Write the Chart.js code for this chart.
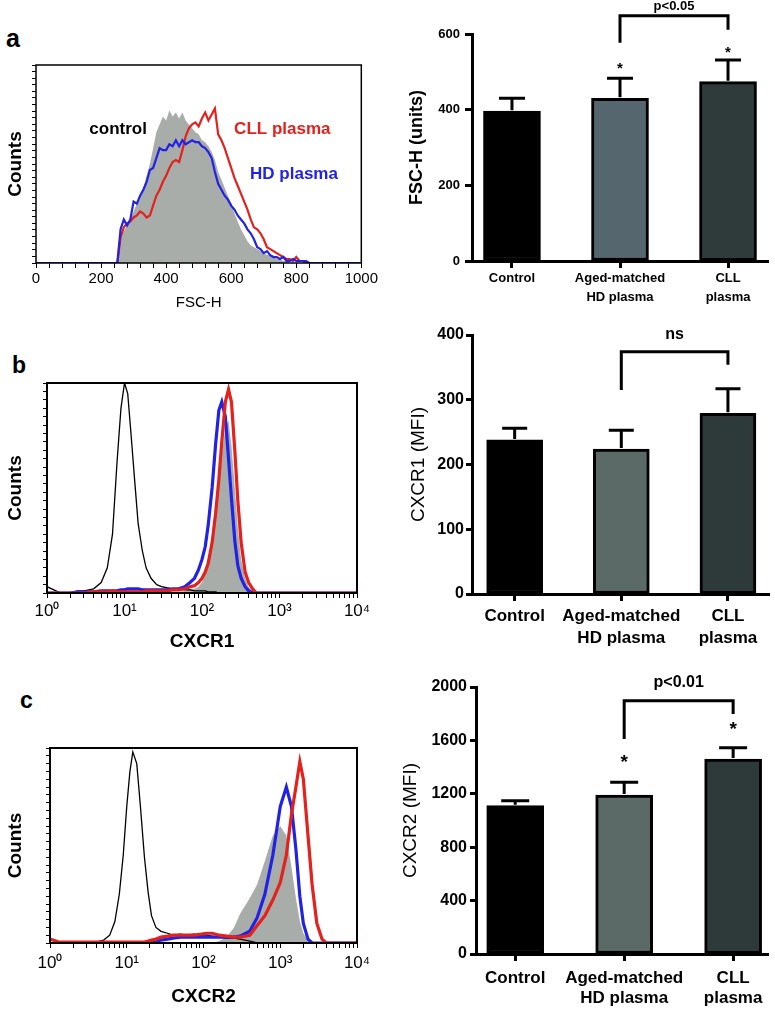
<!DOCTYPE html>
<html>
<head>
<meta charset="utf-8">
<title>FSC-H, CXCR1 and CXCR2</title>
<script src="https://cdn.jsdelivr.net/npm/chart.js@4.4.1/dist/chart.umd.min.js"></script>
<style>
  body { margin: 0; background: #fff; width: 775px; height: 1010px; position: relative; overflow: hidden;
         font-family: "Liberation Sans", Arial, Helvetica, sans-serif; }
  canvas { position: absolute; }
  .tag { position: absolute; font-weight: bold; line-height: 1; color: #000; }
</style>
</head>
<body>
<div class="tag" style="left:6px;top:26px;font-size:25px">a</div>
<div class="tag" style="left:12px;top:354px;font-size:23px">b</div>
<div class="tag" style="left:20px;top:689px;font-size:23px">c</div>

<canvas id="fsc-hist" width="380" height="280" style="left:0;top:40px"></canvas>
<canvas id="fsc-bar" width="380" height="320" style="left:395px;top:0"></canvas>
<canvas id="cxcr1-hist" width="380" height="325" style="left:0;top:330px"></canvas>
<canvas id="cxcr1-bar" width="380" height="330" style="left:395px;top:320px"></canvas>
<canvas id="cxcr2-hist" width="380" height="320" style="left:0;top:690px"></canvas>
<canvas id="cxcr2-bar" width="380" height="350" style="left:395px;top:660px"></canvas>

<script>
// ─── Data ────────────────────────────────────────────────────────────────────

// panel a, histogram (FSC-H, linear axis), counts scaled to 0-100
const fscBins = [0,
  250, 260, 270, 280, 290, 300, 310, 320, 330, 340,
  350, 360, 370, 380, 390, 400, 410, 420, 430, 440,
  450, 460, 470, 480, 490, 500, 510, 520, 530, 540,
  550, 560, 570, 580, 590, 600, 610, 620, 630, 640,
  650, 660, 670, 680, 690, 700, 710, 720, 730, 740,
  750, 760, 770, 780, 790, 800, 810, 820, 830, 840,
  1000];
const fscControl = [0,
  0, 14, 16, 19, 22, 26, 30, 34, 38, 44,
  50, 58, 66, 70, 74, 72, 77, 74, 76, 73,
  76, 72, 70, 68, 66, 65, 62, 61, 59, 56,
  52, 46, 42, 38, 34, 30, 25, 21, 17, 14,
  11, 9, 8, 7, 6, 5, 4, 4, 3, 2,
  2, 1, 1, 0, 0, 0, 0, 0, 0, 0,
  0];
const fscHdPlasma = [0,
  0, 17, 22, 19, 22, 31, 30, 34, 37, 41,
  47, 48, 53, 58, 57, 57, 60, 59, 62, 59,
  62, 60, 61, 62, 61, 61, 59, 58, 56, 53,
  46, 40, 37, 34, 32, 29, 27, 24, 22, 20,
  17, 15, 12, 8, 7, 5, 6, 4, 3, 3,
  2, 3, 1, 1, 2, 1, 1, 1, 1, 0,
  0];
const fscCllPlasma = [null,
  0, 13, 18, 20, 21, 23, 24, 26, 25, 23,
  24, 29, 34, 37, 41, 44, 48, 51, 52, 51,
  57, 64, 68, 70, 71, 69, 73, 76, 72, 75,
  78, 65, 62, 58, 53, 48, 43, 39, 35, 31,
  27, 22, 18, 17, 15, 12, 8, 7, 6, 5,
  4, 3, 2, 2, 1, 3, 1, 1, 0, 0,
  null];

// panel b, histogram (CXCR1, log axis)
const cxcr1Bins = [1, 1.5, 2, 2.5, 3, 4, 5, 6, 7, 8, 9,
  10, 11, 12, 13.5, 15, 17, 19, 22, 26, 30, 35, 42, 50,
  60, 70, 80, 90, 100, 110, 120, 135, 150, 165, 180,
  200, 220, 240, 265, 290, 320, 360, 400, 450, 500, 700, 1000, 10000];
const cxcr1Unstained = [3, 0, 0, 1, 1, 2, 5, 12, 28, 62, 88,
  100, 95, 78, 54, 33, 20, 12, 7, 4, 3, 2.5, 2, 2,
  1.5, 1.5, 1, 1, 1, 1, 0.5, 0.5, 0.5, 0, 0,
  0, 0, 0, 0, 0, 0, 0, 0, 0, 0, 0, 0, 0];
const cxcr1Control = [0, 0, 0, 0, 0, 0, 0, 0, 0, 0, 0,
  0, 0, 0, 0, 0, 0, 0, 0, 0, 0, 0, 0, 0.5,
  1, 2, 2, 3, 5, 9, 14, 24, 36, 50, 66,
  79, 82, 70, 50, 31, 16, 7, 3, 1, 0, 0, 0, 0];
const cxcr1HdPlasma = [0, 0, 0, 0.5, 0.5, 0.5, 1, 1, 1, 1, 1.5,
  1.5, 2, 2, 2, 2, 1.5, 1.5, 1.5, 1.5, 1.5, 1.5, 2, 2,
  3, 5, 7, 11, 16, 22, 32, 50, 71, 87, 91,
  84, 64, 45, 25, 13, 7, 3, 1, 0, 0, 0, 0, 0];
const cxcr1CllPlasma = [0, 0, 0, 0, 0, 0.5, 0.5, 0.5, 1, 0.5, 0.5,
  0.5, 0.5, 0.5, 0.5, 0.5, 0.5, 1, 1, 1, 1, 1, 1.5, 1.5,
  2, 3, 3.5, 5, 7, 10, 14, 24, 38, 54, 72,
  91, 97, 91, 68, 44, 24, 10, 5, 2, 0, 0, 0, 0];

// panel c, histogram (CXCR2, log axis)
const cxcr2Bins = [1, 1.3, 1.6, 2, 2.5, 3, 4, 5, 6, 7, 8, 9,
  10, 11, 12, 13.5, 15, 17, 19, 21, 24, 28, 34, 40,
  50, 60, 75, 90, 110, 130, 160, 200, 250, 300, 400, 500,
  630, 800, 1000, 1200, 1400, 1600, 1800, 2000, 2300, 2600, 3000, 3500,
  4000, 4500, 10000];
const cxcr2Unstained = [0, 0, 0, 0, 0.5, 0.5, 0.5, 1.5, 4, 11, 25, 45,
  70, 88, 98, 92, 71, 44, 26, 14, 8, 6, 5, 4,
  4.5, 4, 4.5, 4, 4, 3.5, 3, 2.5, 2.5, 2, 1, 0,
  0, 0, 0, 0, 0, 0, 0, 0, 0, 0, 0, 0,
  0, 0, 0];
const cxcr2Control = [0, 0, 0, 0, 0, 0, 0, 0, 0, 0, 0, 0,
  0, 0, 0, 0, 0, 0, 0, 0, 0, 0, 0, 0,
  0, 0, 0, 0, 0, 0, 1, 3, 8, 15, 23, 30,
  42, 55, 60, 55, 39, 23, 11, 5, 1, 0, 0, 0,
  0, 0, 0];
const cxcr2HdPlasma = [null, null, null, null, null, null, null, null, null, null, null, null,
  null, null, null, null, null, null, 0, 0.5, 1, 1.5, 2, 2.5,
  3, 3, 3, 3, 3, 3, 3, 3, 3, 3.5, 6, 13,
  25, 45, 70, 80, 70, 48, 24, 10, 2, 0, 0, 0,
  0, 0, 0];
const cxcr2CllPlasma = [2, 0.5, 0.5, 0.5, 0.5, 0.5, 0.5, 0.5, 0.5, 0.5, 0.5, 0.5,
  0.5, 0.5, 0.5, 0.5, 0.5, 0.5, 1, 1.5, 2, 3, 3.5, 4,
  4, 4, 4, 4.5, 5, 5, 4, 3.5, 3, 3, 4, 9,
  14, 22, 31, 45, 66, 80, 93, 84, 55, 30, 10, 2,
  0, 0, 0];

const decadeLabels = ["10\u2070", "10\u00b9", "10\u00b2", "10\u00b3", "10\u2074"];

// bar panels: group means and upper error (SEM)
const groupLabels = [["Control"], ["Aged-matched", "HD plasma"], ["CLL", "plasma"]];
const fscMeans = [396, 430, 474];
const fscErrors = [34, 53, 57];
const cxcr1Means = [238, 224, 279];
const cxcr1Errors = [18, 29, 38];
const cxcr2Means = [1111, 1191, 1461];
const cxcr2Errors = [37, 95, 84];

// ─── Look ────────────────────────────────────────────────────────────────────

const SANS = '"Liberation Sans", Arial, Helvetica, sans-serif';
const RED = "#e3211d";
const BLUE = "#2222e4";
const GREY = "#a8adaa";

Chart.defaults.font.family = SANS;
Chart.defaults.color = "#000";
Chart.defaults.animation = false;
Chart.defaults.responsive = false;
Chart.defaults.plugins.legend.display = false;
Chart.defaults.plugins.tooltip.enabled = false;

// box round the histogram plot + free text labels in data units
const histFrame = {
  id: "histFrame",
  afterDraw(chart, args, opts) {
    const { ctx, chartArea: a, scales } = chart;
    ctx.save();
    ctx.strokeStyle = "#000";
    ctx.lineWidth = opts.lineWidth || 1.5;
    ctx.strokeRect(a.left, a.top, a.right - a.left, a.bottom - a.top);
    (opts.notes || []).forEach((n) => {
      ctx.font = `bold ${n.size}px ${SANS}`;
      ctx.fillStyle = n.color;
      ctx.textAlign = "left";
      ctx.textBaseline = "middle";
      ctx.fillText(n.text, scales.x.getPixelForValue(n.x), scales.y.getPixelForValue(n.y));
    });
    ctx.restore();
  },
};

// error bars, asterisks and the comparison bracket
const barExtras = {
  id: "barExtras",
  afterDatasetsDraw(chart, args, o) {
    const { ctx, scales: { x, y } } = chart;
    ctx.save();
    ctx.strokeStyle = "#000";
    ctx.fillStyle = "#000";
    ctx.lineWidth = 3;
    ctx.lineCap = "butt";
    o.means.forEach((m, i) => {
      const px = x.getPixelForValue(i + 1);
      const y0 = y.getPixelForValue(m) - 1;
      const y1 = y.getPixelForValue(m + o.errors[i]);
      ctx.beginPath();
      ctx.moveTo(px, y0);
      ctx.lineTo(px, y1);
      ctx.moveTo(px - o.cap, y1);
      ctx.lineTo(px + o.cap, y1);
      ctx.stroke();
    });

    ctx.textAlign = "center";
    ctx.textBaseline = "middle";
    ctx.font = `bold ${o.starSize}px ${SANS}`;
    (o.stars || []).forEach((s) => {
      ctx.fillText("*", x.getPixelForValue(s.at), y.getPixelForValue(s.y) + o.starSize * 0.22);
    });

    const b = o.bracket;
    const xl = x.getPixelForValue(b.from);
    const xr = x.getPixelForValue(b.to);
    const yt = y.getPixelForValue(b.top);
    ctx.beginPath();
    ctx.moveTo(xl, y.getPixelForValue(b.leftEnd));
    ctx.lineTo(xl, yt);
    ctx.lineTo(xr, yt);
    ctx.lineTo(xr, y.getPixelForValue(b.rightEnd));
    ctx.stroke();
    ctx.font = `bold ${b.size}px ${SANS}`;
    ctx.fillText(b.text, (xl + xr) / 2, y.getPixelForValue(b.textAt));
    ctx.restore();
  },
};

// ─── Builders ────────────────────────────────────────────────────────────────

function logTicks(scale) {
  const t = [];
  for (let e = 0; e < 4; e++) for (let m = 1; m < 10; m++) t.push({ value: m * Math.pow(10, e) });
  t.push({ value: 10000 });
  scale.ticks = t;
}

function decadeLabel(v) {
  const e = Math.log10(v);
  const r = Math.round(e);
  return Math.abs(e - r) < 1e-9 ? decadeLabels[r] : "";
}

function renderHist(id, cfg) {
  const datasets = cfg.series.map((s) => ({
    data: cfg.bins.map((x, i) => ({ x, y: s.values[i] })),
    borderColor: s.color,
    borderWidth: s.width,
    backgroundColor: s.fill || "rgba(0,0,0,0)",
    fill: s.fill ? "origin" : false,
    pointRadius: 0,
    tension: 0,
    spanGaps: false,
  }));

  const x = cfg.log
    ? {
        type: "logarithmic",
        min: 1,
        max: 10000,
        afterBuildTicks: logTicks,
        ticks: { autoSkip: false, maxRotation: 0, padding: cfg.xPad, font: { size: 17 }, callback: decadeLabel },
      }
    : {
        type: "linear",
        min: 0,
        max: 1000,
        ticks: {
          autoSkip: false, maxRotation: 0, stepSize: 40, padding: cfg.xPad, font: { size: 15 },
          callback: (v) => (v % 200 === 0 ? String(v) : ""),
        },
      };
  Object.assign(x, {
    afterFit: (s) => { s.height = cfg.xH; },
    border: { display: false },
    grid: { drawOnChartArea: false, tickLength: 5, tickColor: "#000", tickWidth: 1 },
    title: { display: true, text: cfg.xTitle, font: cfg.xTitleFont, padding: { top: 0, bottom: cfg.xTitlePad } },
  });

  return new Chart(document.getElementById(id), {
    type: "line",
    data: { datasets },
    options: {
      layout: { padding: { left: 0, right: cfg.padR, top: cfg.padT, bottom: 0 } },
      plugins: { histFrame: { lineWidth: cfg.frame, notes: cfg.notes || [] } },
      scales: {
        x,
        y: {
          min: 0,
          max: 100,
          afterFit: (s) => { s.width = cfg.yW; },
          border: { display: false },
          grid: { drawOnChartArea: false, tickLength: 4, tickColor: "#000", tickWidth: 1 },
          ticks: { stepSize: cfg.yStep, autoSkip: false, padding: 0, callback: () => "" },
          title: { display: true, text: "Counts", font: { size: 19, weight: "bold" }, padding: { top: 4, bottom: 0 } },
        },
      },
    },
    plugins: [histFrame],
  });
}

function renderBars(id, cfg) {
  return new Chart(document.getElementById(id), {
    type: "bar",
    data: {
      datasets: [
        {
          data: cfg.means.map((v, i) => ({ x: i + 1, y: v })),
          backgroundColor: cfg.colors,
          borderColor: "#000",
          borderWidth: 3,
          borderSkipped: false,
          barThickness: cfg.barWidth,
        },
      ],
    },
    options: {
      layout: { padding: { left: 0, right: cfg.padR, top: cfg.padT, bottom: 0 } },
      plugins: {
        barExtras: {
          means: cfg.means,
          errors: cfg.errors,
          cap: cfg.cap,
          stars: cfg.stars,
          starSize: cfg.starSize,
          bracket: cfg.bracket,
        },
      },
      scales: {
        x: {
          type: "linear",
          min: cfg.xMin,
          max: cfg.xMax,
          offset: false,
          afterBuildTicks: (s) => { s.ticks = groupLabels.map((_, i) => ({ value: i + 1 })); },
          afterFit: (s) => { s.height = cfg.xH; },
          border: { color: "#000", width: 3 },
          grid: { offset: false, drawOnChartArea: false, tickLength: 7, tickWidth: 3, tickColor: "#000" },
          ticks: {
            autoSkip: false,
            maxRotation: 0,
            padding: cfg.xPad,
            font: { size: cfg.xFont, weight: "bold", lineHeight: cfg.xLine },
            callback: (v) => groupLabels[v - 1] || "",
          },
        },
        y: {
          min: 0,
          max: cfg.yMax,
          afterFit: (s) => { s.width = cfg.yW; },
          border: { color: "#000", width: 3 },
          grid: { drawOnChartArea: false, tickLength: cfg.yTick, tickWidth: 3, tickColor: "#000" },
          ticks: {
            stepSize: cfg.yStep, padding: cfg.yPad, font: { size: cfg.yFont, weight: "bold" },
            callback: (v) => String(v),
          },
          title: { display: true, text: cfg.yTitle, font: cfg.yTitleFont, padding: { top: cfg.yTitlePad, bottom: 0 } },
        },
      },
    },
    plugins: [barExtras],
  });
}

// ─── Panels ──────────────────────────────────────────────────────────────────

renderHist("fsc-hist", {
  bins: fscBins,
  series: [
    { values: fscHdPlasma, color: BLUE, width: 2.2 },
    { values: fscCllPlasma, color: RED, width: 2.2 },
    { values: fscControl, color: GREY, width: 0, fill: GREY },
  ],
  log: false,
  padR: 14, padT: 25, yW: 36, xH: 57, xPad: 2, yStep: 100 / 30, frame: 1.5,
  xTitle: "FSC-H", xTitleFont: { size: 15 }, xTitlePad: 8,
  notes: [
    { text: "control", x: 164, y: 67.5, color: "#000", size: 17 },
    { text: "CLL plasma", x: 609, y: 67.5, color: RED, size: 17 },
    { text: "HD plasma", x: 658, y: 45, color: BLUE, size: 17 },
  ],
});

renderHist("cxcr1-hist", {
  bins: cxcr1Bins,
  series: [
    { values: cxcr1CllPlasma, color: RED, width: 3.2 },
    { values: cxcr1HdPlasma, color: BLUE, width: 3.2 },
    { values: cxcr1Unstained, color: "#000", width: 1.3 },
    { values: cxcr1Control, color: GREY, width: 0, fill: GREY },
  ],
  log: true,
  padR: 23, padT: 53, yW: 47, xH: 62, xPad: 3, yStep: 4, frame: 2,
  xTitle: "CXCR1", xTitleFont: { size: 19, weight: "bold" }, xTitlePad: 2,
});

renderHist("cxcr2-hist", {
  bins: cxcr2Bins,
  series: [
    { values: cxcr2CllPlasma, color: RED, width: 3.2 },
    { values: cxcr2HdPlasma, color: BLUE, width: 3.2 },
    { values: cxcr2Unstained, color: "#000", width: 1.3 },
    { values: cxcr2Control, color: GREY, width: 0, fill: GREY },
  ],
  log: true,
  padR: 23, padT: 58, yW: 50, xH: 67, xPad: 5, yStep: 4, frame: 2,
  xTitle: "CXCR2", xTitleFont: { size: 19, weight: "bold" }, xTitlePad: 2,
});

renderBars("fsc-bar", {
  means: fscMeans, errors: fscErrors,
  colors: ["#000000", "#56666e", "#2f3b3b"],
  barWidth: 57, cap: 13,
  padR: 7, padT: 34, yW: 77, xH: 59,
  xMin: 0.63, xMax: 3.37, xPad: 1, xFont: 13, xLine: 1.45,
  yMax: 600, yStep: 200, yTick: 7, yPad: 5, yFont: 13,
  yTitle: "FSC-H (units)", yTitleFont: { size: 18, weight: "bold" }, yTitlePad: 11,
  stars: [{ at: 2, y: 516 }, { at: 3, y: 558 }], starSize: 15,
  bracket: { from: 2, to: 3, top: 648, leftEnd: 577, rightEnd: 611, text: "p<0.05", textAt: 672, size: 13 },
});

renderBars("cxcr1-bar", {
  means: cxcr1Means, errors: cxcr1Errors,
  colors: ["#000000", "#5b6a67", "#2e3a3a"],
  barWidth: 56, cap: 12.5,
  padR: 6, padT: 15, yW: 77, xH: 56,
  xMin: 0.6, xMax: 3.385, xPad: 4, xFont: 17, xLine: 1.3,
  yMax: 400, yStep: 100, yTick: 6, yPad: 2, yFont: 16,
  yTitle: "CXCR1 (MFI)", yTitleFont: { size: 19 }, yTitlePad: 12,
  stars: [], starSize: 18,
  bracket: { from: 2, to: 3, top: 374, leftEnd: 315, rightEnd: 354, text: "ns", textAt: 400, size: 16 },
});

renderBars("cxcr2-bar", {
  means: cxcr2Means, errors: cxcr2Errors,
  colors: ["#000000", "#5b6a67", "#2e3a3a"],
  barWidth: 57, cap: 14,
  padR: 7, padT: 27, yW: 81, xH: 56,
  xMin: 0.64, xMax: 3.32, xPad: 7, xFont: 17, xLine: 1.2,
  yMax: 2000, yStep: 400, yTick: 6, yPad: 3, yFont: 16,
  yTitle: "CXCR2 (MFI)", yTitleFont: { size: 19 }, yTitlePad: 4,
  stars: [{ at: 2, y: 1461 }, { at: 3, y: 1708 }], starSize: 19,
  bracket: { from: 2, to: 3, top: 1897, leftEnd: 1610, rightEnd: 1798, text: "p<0.01", textAt: 2030, size: 16 },
});
</script>
</body>
</html>
